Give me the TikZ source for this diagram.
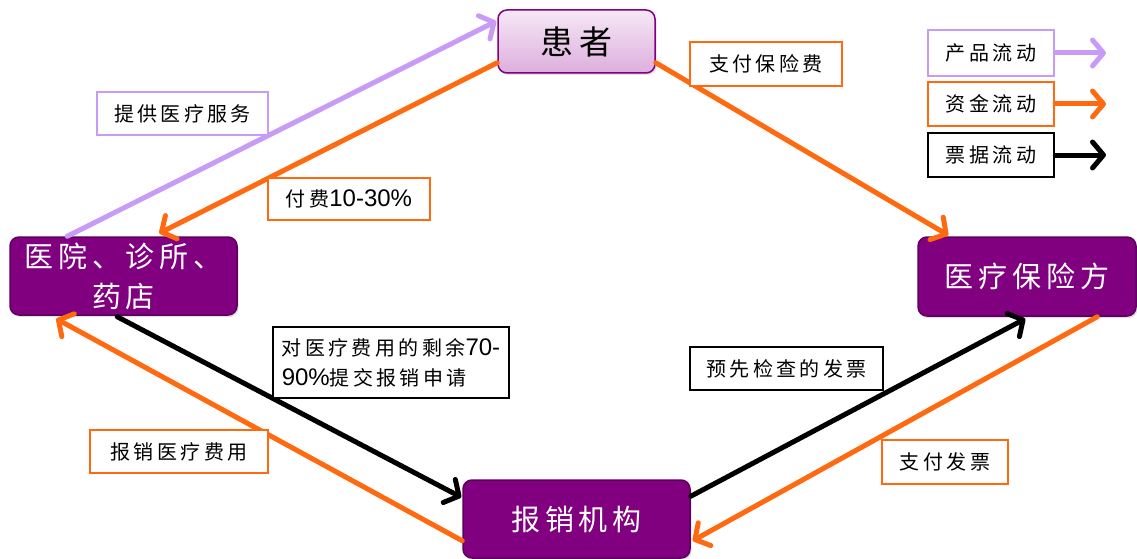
\documentclass[tikz,border=0pt]{standalone}
\usepackage{fontspec}
\setmainfont{Noto Sans CJK SC}[LetterSpace=17]
\newfontfamily\latinfont{Liberation Sans}
\usetikzlibrary{arrows.meta,calc,shadows}
\definecolor{lav}{HTML}{C89BF7}
\definecolor{org}{HTML}{FF6A10}
\definecolor{pur}{HTML}{800080}
\definecolor{purd}{HTML}{5E005E}
\definecolor{pink1}{HTML}{F6E8F6}
\definecolor{pink2}{HTML}{DDAEDD}
\newcommand{\lat}[1]{{\latinfont\fontsize{24}{30}\selectfont #1}}
\tikzset{
 main/.style={rounded corners=9pt, fill=pur, draw=purd, line width=1.5pt, text=white,
   font=\fontsize{29}{40}\selectfont, inner sep=0pt,
   drop shadow={opacity=0.25,shadow xshift=1.5pt,shadow yshift=-2pt}},
 lbl/.style={draw, line width=2.5pt, fill=white, font=\fontsize{20}{30}\selectfont, inner sep=0pt},
 flow/.style={line width=5pt, line cap=round,
   -{Straight Barb[length=11pt,width=26pt,line cap=round,line join=round]}},
}
\begin{document}
\begin{tikzpicture}[x=1pt,y=-1pt]
\useasboundingbox (0,0) rectangle (1137,559);
% main nodes
\node[main, top color=pink1, bottom color=pink2, draw=pur, text=black,
  font=\fontsize{33}{40}\selectfont, minimum width=157pt, minimum height=63pt] (pat) at (576.5,41.5) {患者};
\node[main, minimum width=227pt, minimum height=78pt, align=center] (hosp) at (123.5,276) {医院、诊所、\\药店};
\node[main, minimum width=218pt, minimum height=79pt] (ins) at (1027,276.5) {医疗保险方};
\node[main, minimum width=227pt, minimum height=78pt] (reimb) at (576.5,519) {报销机构};
% connectors
\draw[flow, lav] ($(hosp.north west)+(58,0)$) -- ($(pat.north west)+(-1,12)$);
\draw[flow, org] ($(pat.south west)+(0,-11)$) -- ($(hosp.north west)+(150,-3)$);
\draw[flow, org] ($(pat.south east)+(0,-11)$) -- ($(ins.north west)+(31,-1)$);
\draw[flow, black] ($(hosp.south west)+(108,1)$) -- ($(reimb.north west)+(-1,18)$);
\draw[flow, org] ($(reimb.south west)+(0,-18)$) -- ($(hosp.south west)+(47,3)$);
\draw[flow, black] ($(reimb.north east)+(0,17)$) -- ($(ins.south west)+(108,2)$);
\draw[flow, org] ($(ins.south west)+(180,0)$) -- ($(reimb.south east)+(2,-18)$);
% labels
\node[lbl, draw=lav, minimum width=171pt, minimum height=43pt] (l1) at (182.5,113.5) {提供医疗服务};
\node[lbl, draw=org, minimum width=162pt, minimum height=42pt] (l2) at (349,199) {付费\lat{10-30\%}};
\node[lbl, draw=org, minimum width=152pt, minimum height=44pt] (l3) at (766,64) {支付保险费};
\node[lbl, draw=black, minimum width=236pt, minimum height=71pt, align=left] (l4) at (391,362.5) {对医疗费用的剩余\lat{70-}\\\lat{90\%}提交报销申请};
\node[lbl, draw=black, minimum width=193pt, minimum height=43pt] (l5) at (786.5,368.5) {预先检查的发票};
\node[lbl, draw=org, minimum width=178pt, minimum height=43pt] (l6) at (179,451.5) {报销医疗费用};
\node[lbl, draw=org, minimum width=126pt, minimum height=44pt] (l7) at (945,462) {支付发票};
% legend
\node[lbl, draw=lav, minimum width=126pt, minimum height=46pt] (g1) at (991,53) {产品流动};
\node[lbl, draw=org, minimum width=126pt, minimum height=44pt] (g2) at (991,104) {资金流动};
\node[lbl, draw=black, minimum width=126pt, minimum height=44pt] (g3) at (991,155) {票据流动};
\coordinate (t1) at (1106,53);
\coordinate (t2) at (1106,104);
\coordinate (t3) at (1106,155);
\draw[flow, lav] (g1.east) -- (t1);
\draw[flow, org] (g2.east) -- (t2);
\draw[flow, black] (g3.east) -- (t3);
\end{tikzpicture}
\end{document}
